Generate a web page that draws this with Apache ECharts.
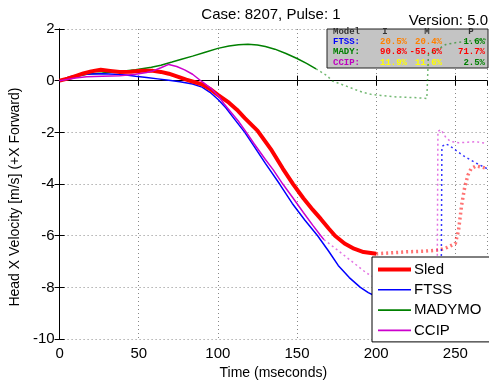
<!DOCTYPE html>
<html>
<head>
<meta charset="utf-8">
<script src="https://cdn.jsdelivr.net/npm/echarts@6/dist/echarts.min.js"></script>
<style>
html,body{margin:0;padding:0;background:#fff;}
#chart{width:489px;height:385px;}
</style>
</head>
<body>
<div id="chart"></div>
<script>
// ---- Data (time in ms, velocity in m/s) ----
var sledSolid = [[0,0],[5,0.08],[10,0.18],[15,0.28],[20,0.36],[26,0.42],[32,0.38],[38,0.34],[45,0.35],[52,0.38],[59,0.38],[64,0.34],[69,0.27],[75,0.15],[80,0.04],[85,-0.05],[90,-0.14],[95,-0.32],[100,-0.55],[107,-0.85],[112,-1.12],[117,-1.45],[125,-1.93],[134,-2.7],[141,-3.4],[147.5,-4.0],[154,-4.55],[160,-5.0],[165,-5.35],[170,-5.72],[174,-6.0],[180,-6.3],[186,-6.5],[192,-6.63],[200,-6.7]];
var sledDotted = [[200,-6.7],[210,-6.66],[220,-6.62],[230,-6.6],[240,-6.55],[245,-6.45],[250,-6.3],[252,-5.8],[254,-4.8],[256,-4.1],[258,-3.65],[260,-3.4],[263,-3.3],[267,-3.35],[270,-3.4]];
var ftssSolid = [[0,0],[5,0.12],[9,0.19],[15,0.24],[20,0.26],[27,0.27],[35,0.25],[42,0.22],[48,0.17],[55,0.12],[62,0.07],[69,0.02],[76,-0.04],[84,-0.13],[90,-0.25],[95,-0.45],[100,-0.72],[105,-1.05],[110,-1.45],[117,-2.0],[123,-2.55],[130,-3.2],[139,-4.0],[147,-4.75],[155,-5.4],[163,-6.0],[170,-6.6],[176,-7.15],[183,-7.62],[190,-8.0],[195,-8.2],[200,-8.35]];
var ftssDotted = [[200,-8.35],[210,-8.58],[220,-8.72],[230,-8.8],[241,-8.85],[241.5,-2.55],[244,-2.45],[246,-2.5],[250,-2.68],[255,-2.9],[260,-3.08],[265,-3.25],[270,-3.4]];
var madySolid = [[0,0],[5,0.08],[10,0.15],[17,0.25],[27,0.3],[38,0.36],[48,0.42],[58,0.52],[64,0.6],[71,0.72],[77,0.83],[84,0.95],[92,1.1],[100,1.25],[107,1.34],[113,1.39],[119,1.41],[125,1.38],[130,1.32],[136,1.22],[143,1.05],[150,0.86],[156,0.67],[162,0.46]];
var madyDotted = [[162,0.46],[169,0.19],[172,0],[177,-0.12],[182,-0.23],[187,-0.35],[192,-0.46],[197,-0.53],[203,-0.57],[213,-0.63],[223,-0.65],[232,-0.69],[233,1.0],[238,1.18],[244,1.4],[250,1.47],[256,1.52],[263,1.57],[270,1.6]];
var ccipSolid = [[0,0],[10,0.1],[17,0.15],[27,0.17],[38,0.19],[48,0.25],[55,0.32],[59,0.38],[64,0.5],[69,0.63],[74,0.55],[79,0.42],[84,0.25],[90,-0.04],[96,-0.32],[100.6,-0.61],[104,-0.9],[108,-1.2],[113,-1.57],[118,-2.0],[123,-2.45],[130,-3.05],[135,-3.45],[141,-4.0],[147,-4.5],[154,-5.1],[160,-5.6],[165,-6.0],[167,-6.15]];
var ccipDotted = [[167,-6.15],[175,-6.53],[186,-7.06],[194,-7.45],[200,-7.65],[210,-7.9],[220,-8.05],[230,-8.15],[238.5,-8.2],[239,-1.95],[241,-1.9],[244,-2.2],[247,-2.35],[252,-2.4],[258,-2.38],[263,-2.36],[267,-2.4],[270,-2.44]];

var legendNames = ['Sled','FTSS','MADYMO','CCIP'];
var xTicks = {min:0, max:270, interval:50};
var yTicks = {min:-10, max:2, interval:2};

// error table
var tableHeader = ['Model','I','M','P'];
var tableRows = ['FTSS:','MADY:','CCIP:'];
var tableVals = [['20.5%','20.4%','1.6%'],['90.8%','-55.6%','71.7%'],['11.9%','11.6%','2.5%']];
var tableValColors = [['#ff8000','#ff8000','#008000'],['#ff0000','#ff0000','#ff0000'],['#ffff00','#ffff00','#008000']];
var tableRowColors = ['#0000ff','#008000','#c000c0'];

var FONT = '"Liberation Sans", Arial, sans-serif';
var MONO = '"Liberation Mono", "DejaVu Sans Mono", monospace';

var chart = echarts.init(document.getElementById('chart'), null, {renderer:'canvas'});

function lineSeries(name, data, color, width, dotted, opacity){
  return {
    name: name, type:'line', data: data, showSymbol:false, symbol:'none',
    xAxisIndex:0, yAxisIndex:0, z: 3,
    lineStyle:{color:color, width:width, type: dotted ? [2,3] : 'solid', opacity: opacity},
    itemStyle:{color:color},
    animation:false, silent:true
  };
}

var axisCommon = {
  axisLine:{show:true, lineStyle:{color:'#000', width:1}},
  axisTick:{show:true, inside:true, length:5, lineStyle:{color:'#000'}},
};

// legend icons: a horizontal bar inside a 33x14 box (degenerate points fix the bounds)
var thickIcon = 'path://M0,0L0,0M33,14L33,14M0,5H33V9H0Z';
var thinIcon = 'path://M0,0L0,0M33,14L33,14M0,6.2H33V7.8H0Z';

// table graphic
var gx = 327, gy = 29, gw = 161, gh = 39;
var graphics = [
  {type:'rect', z:1, shape:{x:gx, y:gy, width:gw, height:gh}, style:{fill:'#c4c4c4', stroke:'#222', lineWidth:1}},
  {type:'text', z:1, x:488, y:21, style:{text:'Version: 5.0', font:'15px '+FONT, fill:'#000', textAlign:'right', textVerticalAlign:'middle'}}
];
var colRight = [407, 442, 485];
var headerX = [333, 385, 427, 471];
var rowY = [32, 42, 52, 63];
graphics.push({type:'text', z:1, x:headerX[0], y:rowY[0], style:{text:tableHeader[0], font:'bold 9px '+MONO, fill:'#333', textAlign:'left', textVerticalAlign:'middle'}});
for (var h=1; h<4; h++){
  graphics.push({type:'text', z:1, x:headerX[h], y:rowY[0], style:{text:tableHeader[h], font:'bold 9px '+MONO, fill:'#333', textAlign:'center', textVerticalAlign:'middle'}});
}
for (var r=0; r<3; r++){
  graphics.push({type:'text', z:1, x:333, y:rowY[r+1], style:{text:tableRows[r], font:'bold 9px '+MONO, fill:tableRowColors[r], textAlign:'left', textVerticalAlign:'middle'}});
  for (var c=0; c<3; c++){
    graphics.push({type:'text', z:1, x:colRight[c], y:rowY[r+1], style:{text:tableVals[r][c], font:'bold 9px '+MONO, fill:tableValColors[r][c], textAlign:'right', textVerticalAlign:'middle'}});
  }
}

var option = {
  animation:false,
  backgroundColor:'#fff',
  textStyle:{fontFamily:FONT},
  title:{text:'Case: 8207, Pulse: 1', left:266, top:2, textAlign:'center',
    textStyle:{fontSize:15, fontWeight:'normal', color:'#000', fontFamily:FONT}},
  grid:{left:56, right:2, top:29, bottom:42, containLabel:false},
  legend:{
    data: [
      {name:legendNames[0], icon:thickIcon},
      {name:legendNames[1], icon:thinIcon},
      {name:legendNames[2], icon:thinIcon},
      {name:legendNames[3], icon:thinIcon}
    ],
    orient:'vertical', left:372, top:257,
    backgroundColor:'#fff', borderColor:'#000', borderWidth:1,
    padding:[5,8,4,6], itemGap:5.3, itemWidth:33, itemHeight:14,
    textStyle:{fontSize:15, color:'#000', fontFamily:FONT, padding:[0,0,0,-2]},
    selectedMode:false
  },
  xAxis:[
    Object.assign({type:'value', position:'bottom', min:xTicks.min, max:xTicks.max, interval:xTicks.interval,
      name:'Time (mseconds)', nameLocation:'middle', nameGap:23,
      nameTextStyle:{fontSize:14, color:'#000', fontFamily:FONT},
      axisLabel:{fontSize:15, color:'#000', margin:7, showMaxLabel:false, fontFamily:FONT,
        formatter:function(v){ return v % 50 === 0 ? String(v) : ''; }},
      splitLine:{show:true, lineStyle:{color:'#888', type:[1,3], width:1}}
    }, axisCommon),
    Object.assign({type:'value', position:'top', min:xTicks.min, max:xTicks.max, interval:xTicks.interval,
      axisLabel:{show:false}, splitLine:{show:false}}, axisCommon)
  ],
  yAxis:[
    Object.assign({type:'value', position:'left', min:yTicks.min, max:yTicks.max, interval:yTicks.interval,
      name:'Head X Velocity [m/s] (+X Forward)', nameLocation:'middle', nameGap:34,
      nameTextStyle:{fontSize:14, color:'#000', fontFamily:FONT, padding:[0,26,0,0]},
      axisLabel:{fontSize:15, color:'#000', margin:5, fontFamily:FONT},
      splitLine:{show:true, lineStyle:{color:'#888', type:[1,3], width:1}}
    }, axisCommon),
    Object.assign({type:'value', position:'right', min:yTicks.min, max:yTicks.max, interval:yTicks.interval,
      axisLabel:{show:false}, splitLine:{show:false}}, axisCommon)
  ],
  graphic: graphics,
  series:[
    lineSeries('Sled dotted', sledDotted, '#ff0000', 3.5, true, 0.55),
    lineSeries('FTSS dotted', ftssDotted, '#0000ff', 1.5, true, 0.8),
    lineSeries('MADYMO dotted', madyDotted, '#008000', 1.5, true, 0.55),
    lineSeries('CCIP dotted', ccipDotted, '#cc00cc', 1.5, true, 0.55),
    lineSeries('MADYMO', madySolid, '#008000', 1.5, false, 1),
    lineSeries('FTSS', ftssSolid, '#0000ff', 1.5, false, 1),
    lineSeries('Sled', sledSolid, '#ff0000', 4, false, 1),
    lineSeries('CCIP', ccipSolid, '#cc00cc', 1.5, false, 1)
  ]
};
chart.setOption(option);
</script>
</body>
</html>
